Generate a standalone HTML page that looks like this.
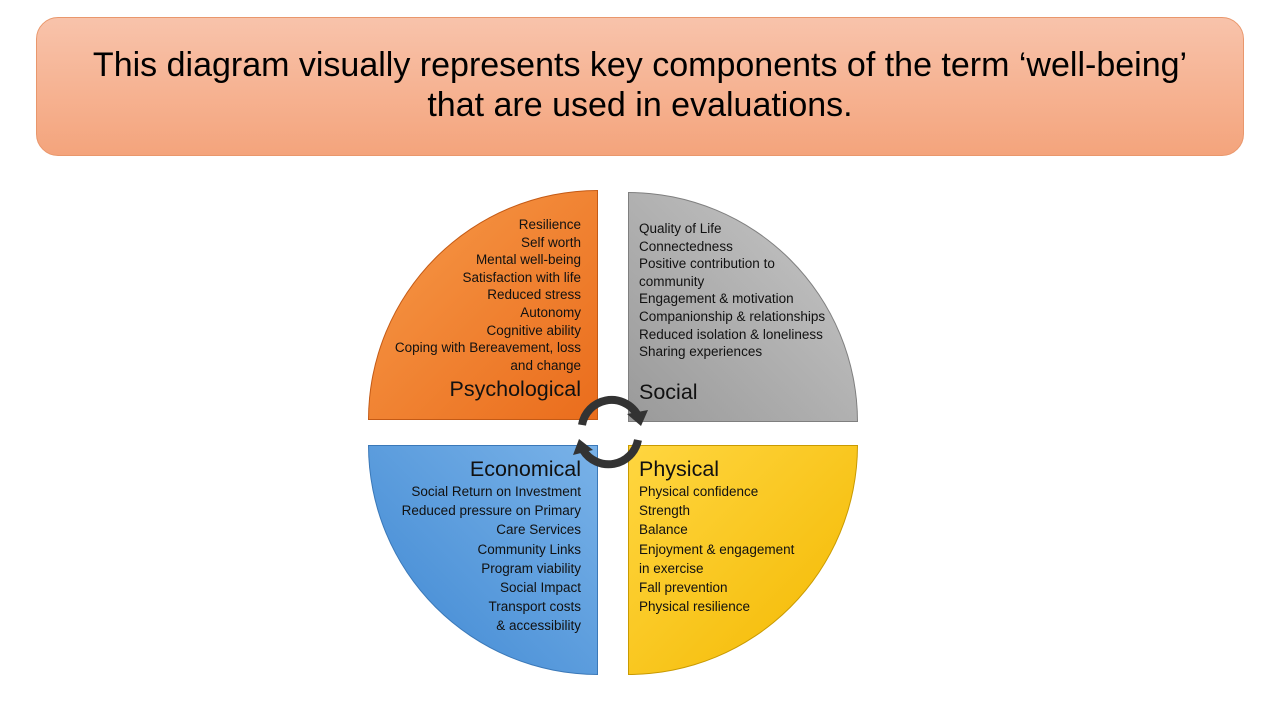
<!DOCTYPE html>
<html><head><style>
body{margin:0;width:1280px;height:720px;background:#fff;position:relative;overflow:hidden;font-family:"Liberation Sans",sans-serif}
.hdr{position:absolute;left:36px;top:17px;width:1208px;height:139px;border:1px solid #e9976c;border-radius:22px;background:linear-gradient(#f8c3ab,#f4a47c);text-align:center;font-size:34px;line-height:40px;color:#000;box-sizing:border-box;padding-top:27px}
.q{position:absolute;width:230px;height:230px;box-sizing:border-box;font-size:13.5px;line-height:17.6px;color:#111}
.q .t{font-size:21.5px;line-height:26px}
.ps{left:368px;top:190px;border-radius:230px 0 0 0;background:linear-gradient(135deg,#f79a4a,#ea6d1c);border:1px solid #c45a15;text-align:right;padding:25px 16px 0 0}
.so{left:628px;top:192px;border-radius:0 230px 0 0;background:linear-gradient(225deg,#c8c8c8,#9a9a9a);border:1px solid #7f7f7f;padding:27px 0 0 10px}
.ec{left:368px;top:445px;border-radius:0 0 0 230px;background:linear-gradient(45deg,#3e87d2,#79b2e8);border:1px solid #3a78b8;text-align:right;padding:10px 16px 0 0}
.ph{left:628px;top:445px;border-radius:0 0 230px 0;background:linear-gradient(315deg,#f3b800,#ffd640);border:1px solid #c99a00;padding:10px 0 0 10px}
</style></head><body>
<div class="hdr">This diagram visually represents key components of the term ‘well-being’<br>that are used in evaluations.</div>
<div class="q ps">Resilience<br>Self worth<br>Mental well-being<br>Satisfaction with life<br>Reduced stress<br>Autonomy<br>Cognitive ability<br>Coping with Bereavement, loss<br>and change<div class="t" style="margin-top:2px">Psychological</div></div>
<div class="q so">Quality of Life<br>Connectedness<br>Positive contribution to<br>community<br>Engagement &amp; motivation<br>Companionship &amp; relationships<br>Reduced isolation &amp; loneliness<br>Sharing experiences<div class="t" style="margin-top:18px">Social</div></div>
<div class="q ec"><div class="t">Economical</div><div style="line-height:19.2px">Social Return on Investment<br>Reduced pressure on Primary<br>Care Services<br>Community Links<br>Program viability<br>Social Impact<br>Transport costs<br>&amp; accessibility</div></div>
<div class="q ph"><div class="t">Physical</div><div style="line-height:19.2px">Physical confidence<br>Strength<br>Balance<br>Enjoyment &amp; engagement<br>in exercise<br>Fall prevention<br>Physical resilience</div></div>
<svg style="position:absolute;left:0;top:0" width="1280" height="720">
<path d="M582 425 A30 30 0 0 1 637 414" fill="none" stroke="#333" stroke-width="8"/>
<polygon points="627,414 648,410 641,426" fill="#333"/>
<path d="M638 440 A30 30 0 0 1 583 450" fill="none" stroke="#333" stroke-width="8"/>
<polygon points="593,450 573,455 579,439" fill="#333"/>
</svg>
</body></html>
